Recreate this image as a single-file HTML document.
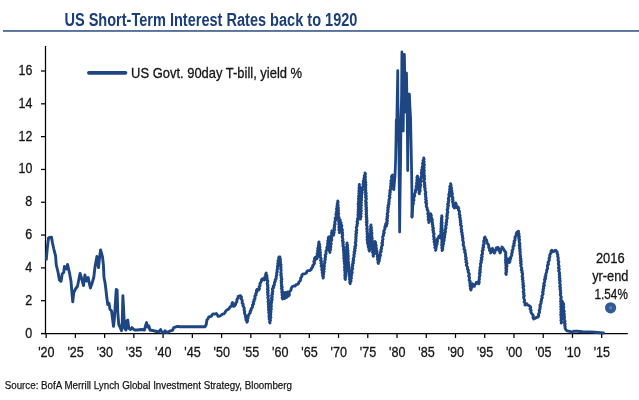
<!DOCTYPE html>
<html><head><meta charset="utf-8"><title>US Short-Term Interest Rates back to 1920</title>
<style>
html,body{margin:0;padding:0;background:#fff;}
body{width:639px;height:400px;overflow:hidden;font-family:"Liberation Sans",sans-serif;}
svg{display:block;will-change:transform;}
text{font-family:"Liberation Sans",sans-serif;}
.ax{stroke:#000;stroke-width:1.25;}
.lb{font-size:14.5px;fill:#151515;stroke:#151515;stroke-width:0.3;}
</style></head>
<body>
<svg width="639" height="400" viewBox="0 0 639 400">
<text x="64.4" y="25.6" font-size="18" font-weight="bold" fill="#1b3d7a" textLength="293" lengthAdjust="spacingAndGlyphs">US Short-Term Interest Rates back to 1920</text>
<rect x="3" y="30.0" width="636" height="1.9" fill="#56719a"/>
<line x1="45.5" y1="46" x2="45.5" y2="334.0" class="ax"/>
<line x1="41" y1="333.5" x2="627.8" y2="333.5" class="ax"/>
<line x1="41" y1="333.50" x2="45.5" y2="333.50" class="ax"/>
<text x="32.3" y="337.50" text-anchor="end" class="lb" textLength="7.0" lengthAdjust="spacingAndGlyphs">0</text>
<line x1="41" y1="300.69" x2="45.5" y2="300.69" class="ax"/>
<text x="32.3" y="304.69" text-anchor="end" class="lb" textLength="7.0" lengthAdjust="spacingAndGlyphs">2</text>
<line x1="41" y1="267.88" x2="45.5" y2="267.88" class="ax"/>
<text x="32.3" y="271.88" text-anchor="end" class="lb" textLength="7.0" lengthAdjust="spacingAndGlyphs">4</text>
<line x1="41" y1="235.06" x2="45.5" y2="235.06" class="ax"/>
<text x="32.3" y="239.06" text-anchor="end" class="lb" textLength="7.0" lengthAdjust="spacingAndGlyphs">6</text>
<line x1="41" y1="202.25" x2="45.5" y2="202.25" class="ax"/>
<text x="32.3" y="206.25" text-anchor="end" class="lb" textLength="7.0" lengthAdjust="spacingAndGlyphs">8</text>
<line x1="41" y1="169.44" x2="45.5" y2="169.44" class="ax"/>
<text x="32.3" y="173.44" text-anchor="end" class="lb" textLength="13.8" lengthAdjust="spacingAndGlyphs">10</text>
<line x1="41" y1="136.63" x2="45.5" y2="136.63" class="ax"/>
<text x="32.3" y="140.63" text-anchor="end" class="lb" textLength="13.8" lengthAdjust="spacingAndGlyphs">12</text>
<line x1="41" y1="103.82" x2="45.5" y2="103.82" class="ax"/>
<text x="32.3" y="107.82" text-anchor="end" class="lb" textLength="13.8" lengthAdjust="spacingAndGlyphs">14</text>
<line x1="41" y1="71.00" x2="45.5" y2="71.00" class="ax"/>
<text x="32.3" y="75.00" text-anchor="end" class="lb" textLength="13.8" lengthAdjust="spacingAndGlyphs">16</text>
<line x1="46.14" y1="333.5" x2="46.14" y2="337.9" class="ax"/>
<text x="46.34" y="357.2" text-anchor="middle" class="lb" textLength="16.4" lengthAdjust="spacingAndGlyphs">'20</text>
<line x1="75.38" y1="333.5" x2="75.38" y2="337.9" class="ax"/>
<text x="75.58" y="357.2" text-anchor="middle" class="lb" textLength="16.4" lengthAdjust="spacingAndGlyphs">'25</text>
<line x1="104.62" y1="333.5" x2="104.62" y2="337.9" class="ax"/>
<text x="104.82" y="357.2" text-anchor="middle" class="lb" textLength="16.4" lengthAdjust="spacingAndGlyphs">'30</text>
<line x1="133.86" y1="333.5" x2="133.86" y2="337.9" class="ax"/>
<text x="134.06" y="357.2" text-anchor="middle" class="lb" textLength="16.4" lengthAdjust="spacingAndGlyphs">'35</text>
<line x1="163.10" y1="333.5" x2="163.10" y2="337.9" class="ax"/>
<text x="163.30" y="357.2" text-anchor="middle" class="lb" textLength="16.4" lengthAdjust="spacingAndGlyphs">'40</text>
<line x1="192.34" y1="333.5" x2="192.34" y2="337.9" class="ax"/>
<text x="192.54" y="357.2" text-anchor="middle" class="lb" textLength="16.4" lengthAdjust="spacingAndGlyphs">'45</text>
<line x1="221.58" y1="333.5" x2="221.58" y2="337.9" class="ax"/>
<text x="221.78" y="357.2" text-anchor="middle" class="lb" textLength="16.4" lengthAdjust="spacingAndGlyphs">'50</text>
<line x1="250.82" y1="333.5" x2="250.82" y2="337.9" class="ax"/>
<text x="251.02" y="357.2" text-anchor="middle" class="lb" textLength="16.4" lengthAdjust="spacingAndGlyphs">'55</text>
<line x1="280.06" y1="333.5" x2="280.06" y2="337.9" class="ax"/>
<text x="280.26" y="357.2" text-anchor="middle" class="lb" textLength="16.4" lengthAdjust="spacingAndGlyphs">'60</text>
<line x1="309.30" y1="333.5" x2="309.30" y2="337.9" class="ax"/>
<text x="309.50" y="357.2" text-anchor="middle" class="lb" textLength="16.4" lengthAdjust="spacingAndGlyphs">'65</text>
<line x1="338.54" y1="333.5" x2="338.54" y2="337.9" class="ax"/>
<text x="338.74" y="357.2" text-anchor="middle" class="lb" textLength="16.4" lengthAdjust="spacingAndGlyphs">'70</text>
<line x1="367.78" y1="333.5" x2="367.78" y2="337.9" class="ax"/>
<text x="367.98" y="357.2" text-anchor="middle" class="lb" textLength="16.4" lengthAdjust="spacingAndGlyphs">'75</text>
<line x1="397.02" y1="333.5" x2="397.02" y2="337.9" class="ax"/>
<text x="397.22" y="357.2" text-anchor="middle" class="lb" textLength="16.4" lengthAdjust="spacingAndGlyphs">'80</text>
<line x1="426.26" y1="333.5" x2="426.26" y2="337.9" class="ax"/>
<text x="426.46" y="357.2" text-anchor="middle" class="lb" textLength="16.4" lengthAdjust="spacingAndGlyphs">'85</text>
<line x1="455.50" y1="333.5" x2="455.50" y2="337.9" class="ax"/>
<text x="455.70" y="357.2" text-anchor="middle" class="lb" textLength="16.4" lengthAdjust="spacingAndGlyphs">'90</text>
<line x1="484.74" y1="333.5" x2="484.74" y2="337.9" class="ax"/>
<text x="484.94" y="357.2" text-anchor="middle" class="lb" textLength="16.4" lengthAdjust="spacingAndGlyphs">'95</text>
<line x1="513.98" y1="333.5" x2="513.98" y2="337.9" class="ax"/>
<text x="514.18" y="357.2" text-anchor="middle" class="lb" textLength="16.4" lengthAdjust="spacingAndGlyphs">'00</text>
<line x1="543.22" y1="333.5" x2="543.22" y2="337.9" class="ax"/>
<text x="543.42" y="357.2" text-anchor="middle" class="lb" textLength="16.4" lengthAdjust="spacingAndGlyphs">'05</text>
<line x1="572.46" y1="333.5" x2="572.46" y2="337.9" class="ax"/>
<text x="572.66" y="357.2" text-anchor="middle" class="lb" textLength="16.4" lengthAdjust="spacingAndGlyphs">'10</text>
<line x1="601.70" y1="333.5" x2="601.70" y2="337.9" class="ax"/>
<text x="601.90" y="357.2" text-anchor="middle" class="lb" textLength="16.4" lengthAdjust="spacingAndGlyphs">'15</text>
<line x1="88.9" y1="72.8" x2="125.5" y2="72.8" stroke="#1e4682" stroke-width="3.7" stroke-linecap="round"/>
<text x="131.1" y="77.5" class="lb" textLength="171" lengthAdjust="spacingAndGlyphs">US Govt. 90day T-bill, yield %</text>
<g fill="none" stroke="#1e4682" stroke-linejoin="round" stroke-linecap="round">
<polyline stroke-width="2.9" points="46.30,259.40 47.30,248.00 48.50,238.00 50.00,237.50 51.50,237.25 52.50,243.00 53.75,248.75 55.60,256.00 56.25,265.00 58.10,272.50 59.40,280.00 61.00,281.25 62.25,273.75 63.75,272.50 64.40,266.50 66.25,269.00 67.60,264.50 69.40,272.50 71.00,281.25 71.90,292.50 72.75,301.90 73.75,292.50 75.60,288.75 77.50,286.25 79.00,278.75 80.10,273.40 81.90,279.40 83.50,285.60 84.90,275.00 86.50,281.00 88.20,277.50 89.40,283.75 90.40,288.00 91.90,283.75 93.75,277.50 95.00,267.00 96.90,256.50 98.50,267.50 99.50,258.00 100.60,250.00 102.50,256.90 103.40,265.00 104.00,277.50 105.00,282.50 105.60,287.00 106.90,298.25 107.75,304.50 109.00,303.25 110.00,309.50 111.50,310.75 112.50,318.25 113.50,326.40 114.40,318.25 115.60,299.50 116.25,289.50 117.10,290.00 117.75,312.00 118.75,324.50 120.00,327.00 121.50,330.75 122.25,322.00 122.90,295.75 123.75,312.00 124.60,328.25 126.00,330.00 126.90,320.75 127.75,320.00 128.75,328.25 130.60,329.50 131.90,327.60 134.40,330.00 137.50,330.00 141.25,329.50 144.40,330.00 145.60,325.75 146.50,322.60 147.50,327.00 148.75,325.75 150.00,330.00 153.75,330.75 158.75,332.00 160.60,329.50 161.90,332.25 163.75,332.60 165.00,330.75 166.90,332.60 170.00,331.00 172.50,330.40 173.75,327.60 177.50,326.40 180.00,326.75 205.00,326.75 206.25,324.50 206.90,320.00 208.09,318.66 208.75,317.00 211.25,316.40 211.97,315.00 213.10,313.90 214.73,314.12 216.25,313.50 217.36,314.83 218.10,316.40 219.82,316.11 221.25,315.10 222.36,314.20 223.75,313.90 224.85,312.78 225.60,311.40 226.62,310.15 228.10,309.50 229.22,308.38 230.00,307.00 231.90,305.75 231.85,304.11 232.50,302.60 232.62,303.92 233.39,305.07 233.50,306.40 234.78,305.71 235.60,304.50 235.57,303.09 236.70,302.08 236.90,300.75 237.03,299.23 238.10,297.96 238.10,296.40 240.60,295.75 241.52,297.01 241.04,298.69 242.16,299.89 242.25,301.40 242.10,302.94 243.21,304.14 242.89,305.73 243.75,307.00 244.30,308.45 244.00,310.04 244.74,311.46 244.45,313.05 245.00,314.50 245.79,315.69 245.38,317.16 246.34,318.30 245.86,319.80 246.90,320.92 246.90,322.30 247.58,321.06 247.28,319.60 248.02,318.37 248.10,317.00 248.50,315.27 249.40,313.75 250.32,312.67 250.11,311.12 251.24,310.12 251.09,308.60 252.31,307.64 252.50,306.25 252.56,304.92 253.67,303.88 253.14,302.38 254.20,301.33 253.90,299.89 255.01,298.86 255.00,297.50 254.82,296.05 256.08,294.94 255.66,293.43 256.80,292.29 256.35,290.78 256.90,289.50 258.75,290.00 259.46,288.58 259.04,286.89 260.11,285.56 259.87,283.91 260.60,282.50 261.42,281.35 261.48,279.80 262.50,278.75 264.40,280.00 265.22,278.72 264.75,277.10 266.00,275.93 265.58,274.32 266.25,273.00 265.99,274.41 267.01,275.66 266.39,277.12 267.32,278.38 266.65,279.85 267.85,281.07 267.50,282.50 267.18,283.87 268.03,285.19 267.43,286.57 268.15,287.90 267.32,289.29 268.35,290.60 267.36,292.00 268.20,293.32 267.62,294.70 268.43,296.03 267.84,297.40 268.10,298.75 268.54,300.09 268.01,301.49 268.59,302.83 268.21,304.22 268.98,305.54 268.35,306.95 268.96,308.28 268.42,309.68 269.34,310.99 268.69,312.40 269.00,313.75 269.50,315.03 268.90,316.44 269.93,317.66 269.09,319.09 270.21,320.30 269.56,321.71 270.00,323.00 269.75,321.59 270.52,320.25 269.78,318.81 270.92,317.50 270.23,316.06 270.84,314.71 270.39,313.29 271.05,311.94 270.50,310.51 271.37,309.18 270.77,307.75 271.35,306.40 271.25,305.00 271.02,303.61 271.81,302.30 271.19,300.88 272.24,299.59 271.38,298.15 272.31,296.85 271.63,295.42 272.59,294.13 272.05,292.71 272.90,291.41 272.50,290.00 272.43,288.61 273.74,287.65 273.18,286.11 274.34,285.10 274.40,283.75 274.44,282.40 275.37,281.32 275.11,279.88 276.09,278.81 276.25,277.50 276.21,276.04 276.88,274.68 276.53,273.18 277.28,271.83 276.93,270.33 277.52,268.95 277.50,267.50 277.44,266.14 278.11,264.88 277.74,263.48 278.46,262.23 277.94,260.80 279.04,259.61 278.56,258.19 279.00,256.90 280.00,256.90 279.80,258.22 280.50,259.49 279.95,260.84 280.61,262.10 279.96,263.46 281.09,264.69 280.27,266.06 281.10,267.31 280.59,268.66 281.14,269.93 281.00,271.25 280.74,272.58 281.41,273.87 280.69,275.22 281.50,276.50 281.09,277.84 281.89,279.13 281.04,280.48 281.73,281.77 281.15,283.12 281.81,284.41 281.28,285.75 282.26,287.03 281.28,288.39 282.28,289.66 281.90,291.00 281.73,292.36 282.46,293.64 281.99,295.02 282.84,296.29 282.10,297.70 282.60,299.00 282.33,297.63 283.31,296.45 282.93,295.06 283.88,293.87 283.60,292.50 284.39,293.91 283.61,295.58 284.83,296.92 284.60,298.50 285.33,297.08 284.65,295.42 285.63,294.05 285.60,292.50 286.31,294.09 285.95,295.90 286.60,297.50 286.64,296.09 287.31,294.79 287.06,293.32 287.60,292.00 287.65,293.40 288.70,294.56 288.60,296.00 289.46,294.62 288.92,292.92 289.60,291.50 290.89,290.20 291.25,288.40 292.12,286.81 293.75,286.00 295.21,285.96 296.12,284.63 297.50,284.40 298.56,283.43 298.94,281.97 300.00,281.00 300.73,279.58 300.69,277.92 301.82,276.63 301.90,275.00 303.26,273.90 305.00,273.75 306.39,273.05 306.80,271.39 308.10,270.60 309.80,270.51 311.25,269.60 311.44,268.11 312.71,267.15 312.74,265.59 313.75,264.50 314.51,263.19 313.78,261.62 314.96,260.38 314.39,258.84 315.00,257.50 316.90,258.75 317.32,257.49 316.75,256.10 317.70,254.90 317.07,253.51 318.24,252.34 317.53,250.93 318.37,249.72 317.67,248.32 318.80,247.14 318.26,245.76 318.92,244.52 318.59,243.16 319.00,241.90 318.62,243.25 319.75,244.45 319.15,245.83 320.02,247.05 319.13,248.46 320.23,249.66 319.61,251.03 320.46,252.26 319.96,253.63 320.54,254.88 319.93,256.26 320.60,257.50 321.19,258.86 320.54,260.36 321.61,261.66 320.90,263.17 321.91,264.47 321.09,265.99 322.01,267.31 321.90,268.75 321.79,270.12 322.54,271.38 322.13,272.79 322.99,274.04 322.47,275.47 323.27,276.72 323.10,278.10 323.46,276.82 322.82,275.44 323.78,274.22 323.21,272.85 324.09,271.61 323.29,270.23 324.27,269.00 323.53,267.62 324.54,266.39 323.90,265.02 324.40,263.75 324.98,262.40 324.60,260.91 325.35,259.58 324.94,258.09 325.60,256.75 325.13,255.24 326.06,253.94 326.00,252.50 326.02,250.85 327.19,249.48 326.74,247.72 327.50,246.25 327.99,244.96 327.48,243.53 328.43,242.30 327.74,240.84 328.63,239.60 328.18,238.18 328.75,236.90 328.57,238.22 329.25,239.48 328.59,240.84 329.54,242.07 328.88,243.43 329.84,244.66 328.96,246.04 329.94,247.27 329.27,248.63 330.17,249.87 329.52,251.23 330.00,252.50 329.71,251.02 330.66,249.66 330.07,248.15 330.97,246.79 330.22,245.26 331.34,243.92 330.55,242.38 331.20,241.00 331.82,239.74 331.08,238.38 331.86,237.13 331.02,235.76 332.13,234.53 331.48,233.18 332.05,231.92 331.90,230.60 332.84,231.93 332.93,233.62 333.75,235.00 333.59,233.60 334.22,232.27 333.69,230.84 334.72,229.54 333.86,228.08 334.75,226.77 334.18,225.33 335.18,224.04 334.63,222.60 335.00,221.25 335.81,219.95 335.10,218.31 336.21,217.07 336.25,215.60 335.86,214.22 336.86,212.98 336.29,211.58 337.34,210.35 336.44,208.91 337.32,207.66 336.86,206.27 337.72,205.02 337.16,203.62 337.88,202.35 337.75,201.00 338.13,202.37 337.43,203.79 338.16,205.15 337.63,206.56 338.44,207.91 337.95,209.33 338.54,210.69 337.88,212.11 338.74,213.46 338.21,214.87 338.50,216.25 339.12,217.57 338.17,218.98 339.26,220.28 338.56,221.68 339.17,223.00 338.74,224.39 339.50,225.70 338.81,227.10 339.42,228.42 338.90,229.81 339.84,231.12 339.40,232.50 339.98,231.14 339.30,229.70 339.94,228.35 339.26,226.91 340.27,225.58 339.52,224.14 340.29,222.79 339.94,221.37 340.25,220.00 340.09,221.54 341.14,222.85 340.85,224.42 341.87,225.74 341.21,227.37 341.90,228.75 342.47,230.04 341.84,231.41 342.66,232.68 342.02,234.05 342.83,235.32 342.06,236.70 342.50,238.00 342.94,239.31 342.36,240.72 343.40,241.98 342.71,243.40 343.37,244.70 342.87,246.10 343.66,247.38 343.50,248.75 343.36,250.11 343.95,251.42 343.57,252.80 344.15,254.12 343.67,255.50 344.38,256.81 343.71,258.21 344.57,259.50 343.99,260.89 344.72,262.19 344.24,263.58 344.86,264.89 344.75,266.25 344.53,267.58 345.09,268.87 344.49,270.22 345.40,271.49 344.81,272.84 345.51,274.12 344.68,275.48 345.51,276.76 344.85,278.11 345.40,279.40 345.11,278.00 345.89,276.64 345.09,275.22 345.98,273.87 345.33,272.45 346.20,271.11 345.28,269.68 346.21,268.33 345.46,266.91 346.45,265.56 345.65,264.14 346.47,262.79 345.87,261.37 346.25,260.00 346.53,258.70 346.14,257.37 346.67,256.09 346.05,254.75 346.87,253.48 346.39,252.14 346.94,250.86 346.28,249.51 347.34,248.26 346.47,246.90 347.27,245.63 346.75,244.29 347.10,243.00 346.87,244.33 347.61,245.59 347.08,246.94 347.76,248.21 347.19,249.56 348.10,250.81 347.10,252.19 348.11,253.44 347.51,254.79 348.41,256.05 347.64,257.40 348.35,258.67 348.10,260.00 348.01,261.37 348.65,262.68 348.06,264.09 348.91,265.39 348.37,266.79 349.13,268.09 348.66,269.50 349.26,270.81 348.84,272.21 349.52,273.51 349.08,274.91 349.40,276.25 349.78,277.73 349.44,279.28 350.19,280.72 349.68,282.30 350.25,283.75 350.05,282.31 351.08,281.03 350.37,279.53 351.43,278.25 350.66,276.74 351.68,275.46 351.22,273.99 352.26,272.71 351.90,271.25 351.83,269.84 352.72,268.56 352.03,267.07 352.85,265.78 352.34,264.31 353.52,263.07 352.78,261.57 353.83,260.31 353.09,258.81 353.75,257.50 354.18,256.18 353.74,254.75 354.68,253.50 354.00,252.03 355.15,250.82 354.38,249.33 355.45,248.10 354.72,246.63 355.85,245.41 355.60,244.00 355.24,242.59 356.04,241.24 355.63,239.83 356.17,238.47 355.68,237.05 356.33,235.70 355.68,234.27 356.65,232.93 355.92,231.50 356.84,230.16 356.50,228.75 356.24,227.28 357.22,225.96 356.83,224.47 357.69,223.14 356.93,221.61 357.94,220.30 357.36,218.79 358.35,217.47 358.10,216.00 357.93,214.67 358.67,213.39 357.97,212.04 358.54,210.74 358.08,209.40 358.88,208.12 358.21,206.77 358.99,205.49 358.05,204.13 359.01,202.85 358.36,201.50 359.12,200.22 358.37,198.87 359.33,197.59 358.50,196.23 359.39,194.95 358.79,193.61 359.33,192.31 358.84,190.97 359.64,189.69 358.93,188.34 359.69,187.05 359.14,185.71 359.40,184.40 359.22,185.74 359.78,187.05 359.09,188.41 360.01,189.71 359.18,191.07 359.96,192.38 359.32,193.73 360.10,195.03 359.42,196.39 360.06,197.70 359.35,199.05 360.18,200.36 359.41,201.72 360.52,203.01 359.83,204.37 360.44,205.68 359.63,207.04 360.70,208.34 359.85,209.70 360.54,211.01 360.02,212.35 360.86,213.66 360.10,215.02 360.82,216.33 360.21,217.68 360.50,219.00 360.18,217.63 361.15,216.32 360.43,214.93 361.22,213.61 360.42,212.22 361.36,210.90 360.47,209.51 361.25,208.19 360.52,206.80 361.46,205.49 360.94,204.11 361.41,202.77 360.89,201.40 361.68,200.07 361.08,198.69 361.69,197.36 361.50,196.00 361.39,194.46 362.22,193.04 361.64,191.43 362.53,190.03 362.08,188.44 362.75,187.00 363.46,185.68 362.96,184.16 363.94,182.88 363.21,181.33 364.38,180.08 363.80,178.55 364.65,177.25 364.22,175.75 365.32,174.49 365.00,173.00 365.46,174.33 364.77,175.71 365.50,177.04 364.90,178.41 365.47,179.74 365.06,181.11 365.84,182.43 365.10,183.81 365.98,185.13 365.21,186.51 365.84,187.84 365.22,189.21 365.92,190.54 365.37,191.91 366.28,193.23 365.29,194.62 366.33,195.93 365.48,197.32 366.47,198.63 366.00,200.00 365.52,201.32 366.48,202.59 365.68,203.92 366.40,205.19 365.77,206.52 366.63,207.79 365.85,209.12 366.79,210.39 366.11,211.71 366.67,212.99 365.97,214.32 366.78,215.59 366.22,216.91 366.95,218.19 366.37,219.51 367.18,220.78 366.22,222.12 367.10,223.39 366.43,224.71 366.90,226.00 367.27,227.35 366.64,228.75 367.43,230.08 366.90,231.47 367.48,232.81 367.02,234.21 367.87,235.53 367.05,236.94 367.77,238.28 367.04,239.68 368.17,240.99 367.33,242.40 367.75,243.75 368.34,245.14 368.19,246.71 369.03,248.05 368.84,249.63 369.50,251.00 369.34,249.69 369.93,248.42 369.44,247.08 370.20,245.82 369.37,244.47 370.41,243.23 369.68,241.88 370.44,240.62 369.79,239.28 370.58,238.02 370.01,236.68 370.62,235.41 370.18,234.08 371.09,232.83 370.38,231.49 371.08,230.22 370.36,228.88 371.35,227.63 370.65,226.28 371.00,225.00 370.79,226.37 371.46,227.69 370.93,229.08 371.71,230.39 370.91,231.80 372.03,233.09 371.11,234.50 371.91,235.81 371.58,237.19 372.33,238.50 371.46,239.92 372.42,241.21 371.74,242.61 372.43,243.93 371.99,245.32 372.94,246.61 372.50,248.00 372.16,249.43 373.30,250.70 372.41,252.18 373.39,253.47 373.01,254.90 373.40,256.25 373.29,254.88 374.07,253.61 373.40,252.18 374.51,250.94 373.68,249.50 374.70,248.25 373.95,246.81 374.92,245.56 374.32,244.14 375.07,242.86 375.00,241.50 375.70,242.79 375.20,244.30 376.23,245.54 375.53,247.07 376.49,248.32 376.18,249.79 376.95,251.08 376.90,252.50 376.67,253.93 377.72,255.19 377.23,256.66 377.87,257.97 377.46,259.43 378.43,260.70 377.88,262.17 378.40,263.50 378.40,262.09 379.35,260.87 379.01,259.39 379.79,258.13 379.40,256.64 380.55,255.46 380.30,254.00 380.15,252.58 381.33,251.43 380.74,249.93 381.64,248.72 381.35,247.28 381.90,246.00 382.58,244.73 381.76,243.28 382.66,242.03 382.29,240.64 383.02,239.38 382.80,238.00 382.64,236.58 383.67,235.40 383.32,233.94 384.29,232.75 383.62,231.23 384.40,230.00 384.97,228.55 384.79,226.96 385.61,225.56 385.60,224.00 386.60,226.00 386.34,224.68 387.22,223.43 386.60,222.08 387.44,220.83 386.59,219.47 387.52,218.23 386.96,216.88 387.86,215.64 387.10,214.28 387.50,213.00 388.16,211.77 387.57,210.37 388.29,209.15 387.73,207.76 388.66,206.56 388.01,205.16 389.08,203.98 388.62,202.60 389.33,201.38 388.88,200.00 389.40,198.75 389.98,197.45 389.17,196.00 390.10,194.75 389.66,193.34 390.42,192.06 389.76,190.63 390.70,189.37 390.60,188.00 390.53,186.55 391.11,185.16 390.69,183.68 391.68,182.34 390.81,180.81 391.91,179.47 391.60,178.00 391.52,176.34 392.50,175.00 392.12,176.45 393.09,177.77 392.66,179.23 393.58,180.55 393.20,182.00 393.75,189.40"/>
<polyline stroke-width="2.75" points="393.75,189.40 395.00,176.00 395.60,160.00 396.00,140.00 396.30,120.00 396.80,124.00 397.20,100.00 397.50,85.00 397.75,70.60 397.90,100.00 398.20,115.00 398.60,128.00 399.00,160.00 399.40,200.00 399.65,232.00 400.00,200.00 400.60,160.00 400.90,128.00 401.20,112.00 401.60,95.00 401.90,51.90 402.40,80.00 403.20,131.00 403.80,85.00 404.40,54.40 404.90,85.00 405.30,112.00 406.00,90.00 406.50,73.00 407.30,120.00 407.70,170.60 408.10,135.00 408.70,105.00 409.40,94.00 410.00,108.00 410.60,118.00 411.00,140.00 411.50,165.00 411.90,190.00 412.00,217.00"/>
<polyline stroke-width="2.9" points="412.00,217.00 412.80,205.00 413.49,203.51 413.07,201.84 413.94,200.38 413.75,198.75 413.74,197.24 414.70,195.95 414.38,194.37 415.00,193.00 415.57,191.68 415.43,190.21 416.23,188.94 416.25,187.50 416.09,186.03 417.09,184.68 416.48,183.16 417.41,181.81 416.76,180.28 417.51,178.91 416.86,177.38 417.50,176.00 417.27,177.58 418.35,178.94 418.04,180.54 418.50,182.00 418.96,183.28 418.37,184.64 419.32,185.88 418.63,187.24 419.33,188.50 418.59,189.87 419.41,191.12 418.96,192.47 419.40,193.75 419.08,192.30 420.18,191.02 419.66,189.55 420.24,188.20 419.97,186.76 420.86,185.45 420.50,184.00 420.35,182.54 421.24,181.19 420.42,179.66 421.39,178.32 420.92,176.83 421.89,175.48 421.50,174.00 421.27,172.61 422.16,171.37 421.60,169.94 422.54,168.71 422.12,167.29 422.60,166.00 422.99,164.70 422.52,163.27 423.69,162.07 422.95,160.61 424.08,159.41 423.75,158.00 423.99,159.37 423.52,160.76 424.20,162.12 423.33,163.51 424.42,164.86 423.58,166.26 424.23,167.62 423.62,169.01 424.38,170.37 423.51,171.76 424.32,173.12 423.61,174.51 424.57,175.87 423.66,177.26 424.64,178.62 424.20,180.00 423.93,181.42 424.79,182.72 424.30,184.16 425.08,185.47 424.42,186.92 425.25,188.23 424.89,189.65 425.30,191.00 425.86,192.37 425.20,193.82 425.81,195.18 425.47,196.61 426.17,197.97 425.56,199.42 426.51,200.76 425.55,202.23 426.70,203.56 426.25,205.00 426.34,206.57 427.21,207.95 427.13,209.56 428.09,210.91 428.10,212.50 427.75,213.96 428.64,215.33 428.10,216.80 428.82,218.19 428.15,219.67 429.09,221.04 428.75,222.50 429.51,221.14 428.88,219.48 430.10,218.21 429.75,216.62 430.78,215.31 430.60,213.75 431.33,215.34 431.08,217.18 431.90,218.75 432.38,220.07 431.75,221.51 432.63,222.78 432.23,224.20 432.95,225.49 432.57,226.90 433.49,228.17 432.73,229.63 433.60,230.90 433.11,232.33 434.14,233.58 433.75,235.00 433.54,236.44 434.37,237.75 433.78,239.23 434.85,240.51 434.05,242.02 434.99,243.32 434.56,244.78 435.58,246.07 434.77,247.58 435.95,248.85 435.60,250.30 436.02,249.05 435.72,247.68 436.47,246.49 436.18,245.12 437.19,243.97 436.47,242.53 437.60,241.40 436.96,239.98 437.50,238.75 438.66,237.95 438.71,236.38 439.75,235.50 440.01,236.86 440.80,238.00 440.38,236.67 441.44,235.41 440.72,234.07 441.42,232.79 440.65,231.45 441.39,230.18 440.84,228.85 441.47,227.56 441.01,226.24 441.62,224.95 440.97,223.62 441.86,222.35 441.22,221.01 441.74,219.73 441.28,218.40 442.08,217.12 441.70,215.80 441.98,217.13 441.42,218.47 442.02,219.80 441.28,221.14 442.17,222.47 441.57,223.81 442.04,225.14 441.48,226.48 442.23,227.81 441.43,229.15 442.10,230.48 441.63,231.82 442.34,233.14 441.57,234.49 442.23,235.82 441.64,237.16 442.50,238.48 441.67,239.83 442.39,241.15 441.68,242.50 442.37,243.82 441.54,245.17 442.60,246.49 441.74,247.83 442.35,249.16 442.10,250.50 442.78,249.26 442.30,247.81 443.01,246.57 442.54,245.12 443.62,243.95 443.03,242.49 443.75,241.25 444.29,239.94 443.66,238.45 444.72,237.22 444.32,235.77 444.98,234.48 444.59,233.02 445.61,231.79 444.88,230.28 445.60,229.00 446.01,227.60 445.56,226.09 446.48,224.76 445.97,223.24 446.78,221.89 446.42,220.39 446.90,219.00 447.38,217.70 446.58,216.29 447.44,215.02 446.93,213.64 447.88,212.37 447.50,211.00 447.09,209.60 448.02,208.32 447.63,206.93 448.53,205.65 447.59,204.20 448.62,202.93 448.16,201.53 449.02,200.25 448.29,198.82 448.75,197.50 449.45,196.19 448.71,194.69 449.79,193.44 449.24,191.97 450.15,190.69 449.58,189.21 450.38,187.92 449.74,186.43 450.90,185.19 450.60,183.75 451.07,185.12 450.74,186.60 451.56,187.92 451.05,189.43 451.96,190.73 451.60,192.22 452.33,193.55 452.25,195.00 451.92,196.40 453.00,197.67 452.40,199.09 453.13,200.39 452.39,201.83 453.19,203.12 453.10,204.50 453.29,206.42 454.40,208.00 454.57,206.28 455.60,204.76 455.60,203.00 456.28,204.42 455.79,206.08 456.50,207.50 458.10,207.00 458.73,208.43 458.41,210.07 459.47,211.41 459.40,213.00 459.22,214.36 460.16,215.58 459.55,217.00 460.42,218.23 460.03,219.62 460.82,220.86 460.21,222.27 461.03,223.51 460.45,224.92 461.55,226.12 461.25,227.50 461.08,228.92 461.88,230.21 461.44,231.67 462.23,232.97 461.93,234.41 462.71,235.70 462.31,237.16 463.08,238.45 462.54,239.93 463.10,241.25 463.53,242.89 463.11,244.64 463.75,246.25 464.28,247.66 463.92,249.26 465.14,250.53 464.61,252.16 465.51,253.50 465.60,255.00 465.39,256.45 466.26,257.77 465.56,259.28 466.50,260.60 465.92,262.09 467.12,263.37 466.28,264.90 466.90,266.25 467.74,267.47 467.38,269.02 468.53,270.16 468.02,271.75 468.75,273.00 469.44,274.38 468.56,275.93 469.49,277.28 469.40,278.75 469.13,280.22 470.32,281.49 469.78,283.00 470.52,284.33 469.94,285.85 470.85,287.15 470.29,288.67 471.00,290.00 471.09,288.37 472.22,286.99 471.88,285.25 472.50,283.75 473.15,285.23 474.40,286.25 474.55,284.77 475.88,283.87 476.25,282.50 477.63,282.86 478.75,283.75 479.29,282.29 478.78,280.71 479.47,279.27 479.17,277.72 479.60,276.25 479.98,274.87 479.32,273.39 480.41,272.07 479.59,270.58 480.48,269.24 479.88,267.77 480.71,266.43 480.60,265.00 480.43,263.55 481.44,262.29 480.91,260.78 481.94,259.52 481.27,258.00 482.27,256.73 481.57,255.20 482.52,253.92 482.50,252.50 482.14,251.00 483.27,249.70 482.70,248.17 483.69,246.85 483.10,245.32 484.11,244.00 483.75,242.50 483.67,241.01 484.69,239.77 484.23,238.20 485.00,236.90 485.31,238.57 486.51,239.87 486.90,241.50 487.09,243.18 488.33,244.42 488.75,246.00 488.65,247.52 489.77,248.73 489.45,250.31 490.76,251.46 490.60,253.00 491.61,251.62 491.47,249.77 492.50,248.40 492.85,250.05 493.95,251.39 494.40,253.00 495.06,251.82 495.09,250.41 496.18,249.39 496.25,248.00 498.10,247.50 498.91,248.76 498.69,250.37 500.01,251.46 500.00,253.00 500.71,251.57 500.68,249.92 501.83,248.63 501.90,247.00 502.99,248.13 503.75,249.50 504.51,250.87 505.60,252.00 505.96,253.31 505.43,254.65 506.03,255.96 505.46,257.30 506.18,258.61 505.41,259.95 506.12,261.26 505.46,262.60 506.28,263.90 505.71,265.24 506.52,266.54 505.74,267.89 506.31,269.20 505.86,270.54 506.55,271.84 505.66,273.19 506.20,274.50 505.80,273.08 506.70,271.74 506.14,270.32 506.71,268.96 506.16,267.53 507.06,266.19 506.42,264.76 507.25,263.41 506.90,262.00 507.17,260.25 508.10,258.75 508.03,260.17 509.40,261.10 509.40,262.50 510.05,261.33 509.65,259.85 510.72,258.81 510.51,257.39 511.25,256.25 511.89,254.95 511.59,253.44 512.39,252.17 512.02,250.65 512.99,249.42 513.10,248.00 512.99,246.57 514.16,245.39 513.67,243.88 514.45,242.62 514.05,241.13 515.10,239.93 515.00,238.50 515.07,236.87 516.41,235.65 516.18,233.92 516.90,232.50 518.50,231.25 518.31,232.68 519.03,234.04 518.62,235.49 519.46,236.83 518.59,238.32 519.62,239.65 519.09,241.11 519.40,242.50 519.99,243.85 519.14,245.31 520.06,246.64 519.34,248.09 520.26,249.42 519.72,250.85 520.34,252.21 519.92,253.63 520.30,255.00 520.62,256.32 520.19,257.69 521.08,258.96 520.28,260.37 521.32,261.63 520.49,263.04 521.33,264.31 520.75,265.70 521.25,267.00 521.81,268.28 521.20,269.74 522.25,270.94 521.79,272.38 522.71,273.60 522.50,275.00 522.06,276.41 522.98,277.73 522.29,279.16 523.10,280.49 522.71,281.90 523.38,283.23 522.74,284.66 523.83,285.96 522.94,287.41 523.50,288.75 523.89,290.16 523.14,291.63 524.03,293.02 523.50,294.48 524.37,295.87 523.51,297.34 524.00,298.75 524.69,300.24 524.07,301.94 525.29,303.35 525.00,305.00 526.90,303.75 527.57,304.93 528.75,305.60 530.10,306.25 530.76,307.50 530.01,308.93 531.12,310.12 530.80,311.50 531.34,313.17 532.50,314.50 533.35,315.88 532.95,317.61 533.75,319.00 535.60,318.00 536.74,317.21 538.10,317.00 538.73,315.74 538.43,314.22 539.20,313.00 539.62,311.75 539.09,310.35 540.05,309.18 539.79,307.82 540.43,306.61 539.88,305.20 540.60,304.00 541.19,302.78 540.90,301.38 541.62,300.19 541.48,298.81 542.39,297.66 541.82,296.20 542.50,295.00 543.15,293.68 542.47,292.15 543.35,290.87 542.94,289.38 543.88,288.10 543.29,286.59 544.46,285.35 543.68,283.81 544.40,282.50 544.88,281.19 544.43,279.69 545.70,278.53 544.94,276.97 545.95,275.76 545.72,274.31 546.25,273.00 546.80,271.55 546.67,269.96 547.67,268.60 547.50,267.00 547.34,265.46 548.54,264.21 547.96,262.58 548.75,261.25 549.45,259.88 549.04,258.29 549.85,256.95 549.68,255.40 550.20,254.00 551.16,252.95 551.02,251.43 551.80,250.30 553.60,251.60 555.60,250.20 557.20,252.00 557.09,253.44 557.94,254.75 557.59,256.23 558.29,257.56 558.20,259.00 558.03,260.52 558.90,261.96 558.25,263.53 558.70,265.00 559.11,266.38 558.36,267.84 559.38,269.17 558.60,270.64 559.20,272.00 559.70,273.28 559.17,274.63 559.81,275.89 559.20,277.25 560.11,278.50 559.41,279.86 560.27,281.11 559.52,282.47 560.00,283.75 560.36,285.09 559.68,286.50 560.50,287.82 559.87,289.23 560.70,290.54 560.33,291.93 560.89,293.26 560.25,294.67 560.80,296.00 561.36,297.34 560.64,298.70 561.24,300.04 560.52,301.41 561.39,302.74 560.67,304.10 561.33,305.44 560.66,306.81 561.49,308.14 560.73,309.50 561.58,310.84 560.77,312.20 561.37,313.55 560.67,314.91 561.51,316.24 560.92,317.60 561.61,318.94 560.98,320.30 561.70,321.64 561.25,323.00 561.74,321.64 560.87,320.23 561.81,318.89 561.11,317.49 561.82,316.14 561.19,314.74 562.09,313.39 561.39,311.99 562.18,310.64 561.51,309.24 562.04,307.88 561.52,306.49 562.37,305.14 561.53,303.74 562.29,302.39 562.00,301.00 563.10,303.00 563.74,304.35 563.08,305.83 563.85,307.17 563.24,308.64 563.75,310.00 564.32,311.39 563.50,312.89 564.50,314.25 563.86,315.74 564.60,317.12 564.14,318.59 564.50,320.00 565.08,321.30 564.24,322.69 565.21,323.97 564.57,325.35 565.27,326.64 565.00,328.00 565.70,329.50 567.00,330.80 570.00,331.40 571.90,332.40 573.75,331.10 577.50,331.20 582.50,331.80 590.00,331.90 595.00,332.20 600.00,332.70 603.60,333.00"/>
</g>
<circle cx="610.6" cy="307.8" r="5.6" fill="#2f5c95"/>
<circle cx="610.6" cy="307.8" r="1.6" fill="#5a84b8"/>
<text x="610.3" y="262.5" text-anchor="middle" class="lb" textLength="28.7" lengthAdjust="spacingAndGlyphs">2016</text>
<text x="610.3" y="280.6" text-anchor="middle" class="lb" textLength="36.3" lengthAdjust="spacingAndGlyphs">yr-end</text>
<text x="611.2" y="298.5" text-anchor="middle" class="lb" textLength="33.2" lengthAdjust="spacingAndGlyphs">1.54%</text>
<text x="4.7" y="388.8" font-size="11.5" fill="#151515" stroke="#151515" stroke-width="0.25" textLength="287.3" lengthAdjust="spacingAndGlyphs">Source: BofA Merrill Lynch Global Investment Strategy, Bloomberg</text>
</svg>
</body></html>
